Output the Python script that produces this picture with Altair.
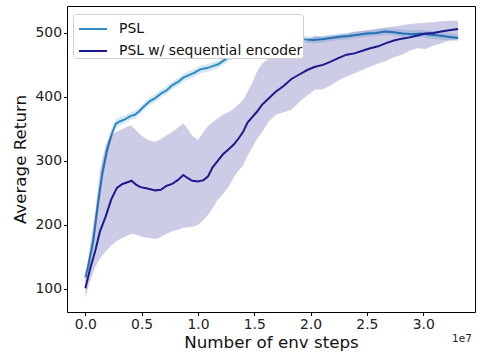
import altair as alt
import pandas as pd

# x in units of 1e7 env steps
psl_x = [0.00, 0.03, 0.07, 0.11, 0.15, 0.19, 0.23, 0.27, 0.31, 0.35, 0.40, 0.44, 0.48, 0.52,
         0.57, 0.62, 0.67, 0.72, 0.77, 0.82, 0.87, 0.92, 0.97, 1.02, 1.08, 1.13, 1.18, 1.23,
         1.28, 1.33, 1.38, 1.43, 1.48, 1.55, 1.62, 1.70, 1.78, 1.86, 1.94, 2.02, 2.10, 2.18,
         2.26, 2.34, 2.42, 2.50, 2.58, 2.66, 2.74, 2.82, 2.90, 2.98, 3.06, 3.14, 3.22, 3.31]
psl_mean = [118, 140, 175, 230, 280, 315, 340, 358, 362, 365, 370, 372, 378, 385,
            393, 398, 405, 410, 418, 423, 430, 434, 438, 443, 445, 448, 451, 457,
            463, 468, 474, 479, 483, 486, 488, 489, 491, 492, 490, 489, 490, 492,
            494, 495, 497, 499, 500, 502, 501, 499, 498, 499, 497, 496, 494, 492]
psl_lo = [112, 130, 162, 215, 266, 303, 331, 351, 356, 359, 364, 366, 372, 379,
          387, 392, 399, 404, 412, 417, 424, 428, 432, 437, 439, 442, 445, 451,
          457, 462, 468, 473, 477, 481, 483, 484, 486, 487, 485, 484, 485, 487,
          489, 490, 492, 494, 495, 497, 496, 493, 492, 493, 491, 490, 488, 486]
psl_hi = [124, 150, 188, 245, 294, 327, 349, 365, 369, 371, 376, 378, 384, 391,
          399, 404, 411, 416, 424, 429, 436, 440, 444, 449, 451, 454, 457, 463,
          469, 474, 480, 485, 489, 491, 493, 494, 496, 497, 495, 494, 495, 497,
          499, 500, 502, 504, 505, 507, 506, 505, 504, 505, 503, 502, 500, 498]

seq_x = [0.00, 0.04, 0.09, 0.13, 0.18, 0.23, 0.28, 0.33, 0.38, 0.41, 0.45, 0.49, 0.55, 0.62,
         0.67, 0.72, 0.77, 0.82, 0.87, 0.91, 0.95, 1.00, 1.05, 1.09, 1.13, 1.17, 1.22, 1.27,
         1.32, 1.36, 1.40, 1.44, 1.48, 1.52, 1.57, 1.63, 1.69, 1.76, 1.83, 1.90, 1.97, 2.04,
         2.11, 2.18, 2.25, 2.32, 2.39, 2.46, 2.53, 2.60, 2.67, 2.74, 2.81, 2.88, 2.95, 3.02,
         3.09, 3.16, 3.23, 3.31]
seq_mean = [101, 130, 161, 190, 213, 240, 258, 264, 267, 269, 263, 259, 257, 254,
            255, 261, 264, 270, 278, 273, 269, 268, 270, 276, 290, 299, 310, 318,
            326, 335, 345, 360, 368, 376, 388, 398, 408, 417, 428, 435, 442, 447,
            450, 455, 461, 466, 468, 472, 476, 479, 484, 488, 491, 493, 496, 499,
            500, 502, 504, 506]
seq_lo = [86, 112, 135, 148, 158, 168, 175, 180, 184, 186, 185, 182, 180, 178,
          181, 186, 190, 192, 196, 196, 197, 200, 208, 216, 226, 238, 248, 259,
          275, 285, 293, 308, 320, 333, 345, 362, 372, 376, 380, 392, 402, 411,
          412, 418, 426, 432, 437, 442, 447, 452, 456, 462, 466, 472, 476, 475,
          480, 484, 488, 490]
seq_hi = [114, 165, 225, 285, 325, 340, 346, 350, 354, 355, 348, 341, 333, 330,
          334, 340, 345, 352, 359, 350, 339, 333, 345, 355, 360, 366, 372, 376,
          382, 388, 395, 408, 421, 438, 452, 460, 467, 474, 479, 484, 489, 495,
          494, 496, 497, 499, 502, 503, 505, 507, 509, 510, 512, 514, 515, 516,
          517, 518, 519, 519]

series = ["PSL", "PSL w/ sequential encoder"]
colors = ["#2c8cc4", "#1a1a8c"]
band_colors = ["#2c8cc4", "#000080"]
x_ticks = [0.0, 0.5, 1.0, 1.5, 2.0, 2.5, 3.0]
y_ticks = [100, 200, 300, 400, 500]
offset_label = ["1e7"]

psl = pd.DataFrame({"x": psl_x, "y": psl_mean, "lo": psl_lo, "hi": psl_hi, "s": series[0]})
seq = pd.DataFrame({"x": seq_x, "y": seq_mean, "lo": seq_lo, "hi": seq_hi, "s": series[1]})

font = "DejaVu Sans"
xs = alt.Scale(domain=[-0.163, 3.46], nice=False, zero=False)
ys = alt.Scale(domain=[64, 542], nice=False, zero=False)
xax = alt.Axis(values=x_ticks, format=".1f", title="Number of env steps", grid=False)
yax = alt.Axis(values=y_ticks, title="Average Return", grid=False)


def band(df, c):
    return alt.Chart(df).mark_area(color=c, opacity=0.2).encode(
        x=alt.X("x:Q", scale=xs, axis=xax),
        y=alt.Y("lo:Q", scale=ys, axis=yax),
        y2="hi:Q",
    )


def line(df):
    return alt.Chart(df).mark_line(strokeWidth=2).encode(
        x=alt.X("x:Q", scale=xs, axis=xax),
        y=alt.Y("y:Q", scale=ys, axis=yax),
        color=alt.Color("s:N", scale=alt.Scale(domain=series, range=colors),
                        legend=alt.Legend(title=None, orient="none", legendX=6, legendY=8)),
    )


offset = alt.Chart(pd.DataFrame({"t": offset_label})).mark_text(
    font=font, fontSize=10.5, align="center", baseline="middle", color="#222"
).encode(text="t:N", x=alt.value(395), y=alt.value(333))

chart = alt.layer(
    band(psl, band_colors[0]), line(psl),
    band(seq, band_colors[1]), line(seq),
    offset,
).properties(
    width=408, height=306,
    padding={"left": 67, "top": 6, "right": 9, "bottom": 41},
    autosize=alt.AutoSizeParams(type="none"),
).configure_view(
    stroke="black", strokeWidth=1
).configure_axis(
    domain=False, tickColor="black", tickSize=3.5, tickWidth=1,
    labelFont=font, labelFontSize=13.9, labelColor="#222", labelPadding=2,
    titleFont=font, titleFontSize=16.7, titleFontWeight="normal", titleColor="#111",
).configure_axisX(titlePadding=3).configure_axisY(titlePadding=5).configure_legend(
    labelFont=font, labelFontSize=13.9, labelColor="#111", labelLimit=400,
    symbolType="stroke", symbolSize=784, symbolStrokeWidth=2, symbolOffset=5,
    strokeColor="#d0d0d0", fillColor="white", padding=0, cornerRadius=3,
    rowPadding=-2, labelOffset=11,
)

chart.save("out.html", embed_options={"renderer": "svg", "actions": False})
